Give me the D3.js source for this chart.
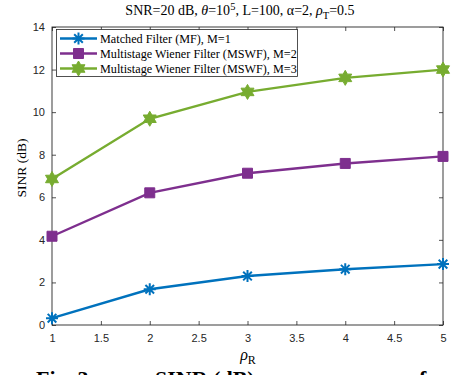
<!DOCTYPE html>
<html>
<head>
<meta charset="utf-8">
<script src="https://cdn.jsdelivr.net/npm/d3@7"></script>
<style>
  body { margin: 0; background: #fff; }
  svg { display: block; }
</style>
</head>
<body>
<div id="chart"></div>
<script>
// values
const rhoR = [1, 2, 3, 4, 5];
const sinrMF = [0.32, 1.68, 2.3, 2.62, 2.86];
const sinrMSWF2 = [4.17, 6.21, 7.13, 7.59, 7.92];
const sinrMSWF3 = [6.86, 9.69, 10.95, 11.61, 12.0];
const seriesNames = ["Matched Filter (MF), M=1", "Multistage Wiener Filter (MSWF), M=2", "Multistage Wiener Filter (MSWF), M=3"];
const seriesColors = ["#0072BD", "#7E2F8E", "#77AC30"];
const seriesMarkers = ["asterisk", "square", "hexagram"];
const xTicks = [1, 1.5, 2, 2.5, 3, 3.5, 4, 4.5, 5];
const yTicks = [0, 2, 4, 6, 8, 10, 12, 14];

const width = 466, height = 375;
const margin = {top: 27, right: 23, bottom: 50, left: 52};
const axisColor = "#262626";
const serif = "'Liberation Serif', 'Times New Roman', serif";
const sans = "'Liberation Sans', Arial, Helvetica, sans-serif";

const svg = d3.select("#chart").append("svg")
    .attr("width", width)
    .attr("height", height);

const x = d3.scaleLinear().domain([1, 5]).range([margin.left, width - margin.right]);
const y = d3.scaleLinear().domain([0, 14]).range([height - margin.bottom, margin.top]);

// ticks inward on all four sides, like a matlab box
const tickLen = 4;
const g = svg.append("g");
g.append("g")
    .attr("transform", `translate(0,${y(0)})`)
    .call(d3.axisBottom(x).tickValues(xTicks).tickSizeInner(-tickLen).tickSizeOuter(0).tickPadding(9).tickFormat(d3.format("")))
    .call(s => s.select(".domain").remove());
g.append("g")
    .attr("transform", `translate(0,${y(14)})`)
    .call(d3.axisTop(x).tickValues(xTicks).tickSizeInner(-tickLen).tickSizeOuter(0).tickFormat(""))
    .call(s => s.select(".domain").remove());
g.append("g")
    .attr("transform", `translate(${x(1)},0)`)
    .call(d3.axisLeft(y).tickValues(yTicks).tickSizeInner(-tickLen).tickSizeOuter(0).tickPadding(7))
    .call(s => s.select(".domain").remove());
g.append("g")
    .attr("transform", `translate(${x(5)},0)`)
    .call(d3.axisRight(y).tickValues(yTicks).tickSizeInner(-tickLen).tickSizeOuter(0).tickFormat(""))
    .call(s => s.select(".domain").remove());

g.selectAll(".tick line").attr("stroke", axisColor).attr("stroke-width", 0.8);
g.selectAll(".tick text")
    .attr("fill", axisColor)
    .style("font-family", sans)
    .style("font-size", "11px");

svg.append("rect")
    .attr("x", x(1)).attr("y", y(14))
    .attr("width", x(5) - x(1)).attr("height", y(0) - y(14))
    .attr("fill", "none")
    .attr("stroke", axisColor)
    .attr("stroke-width", 0.9);

// markers
function markerPath(type, s) {
  if (type === "square") {
    const h = s / 2;
    return `M${-h},${-h}H${h}V${h}H${-h}Z`;
  }
  if (type === "hexagram") {
    const pts = [];
    for (let i = 0; i < 12; i++) {
      const r = i % 2 === 0 ? s / 2 : s / 2 * 0.577;
      const a = -Math.PI / 2 + i * Math.PI / 6;
      pts.push([r * Math.cos(a), r * Math.sin(a)]);
    }
    return "M" + pts.map(p => p.join(",")).join("L") + "Z";
  }
  // asterisk
  const h = s / 2, d = h * 0.72;
  return `M0,${-h}V${h}M${-h},0H${h}M${-d},${-d}L${d},${d}M${-d},${d}L${d},${-d}`;
}

const seriesValues = [sinrMF, sinrMSWF2, sinrMSWF3];
const markerSize = {asterisk: 12, square: 10, hexagram: 15};

const line = d3.line().x(d => x(d[0])).y(d => y(d[1]));

seriesValues.forEach(function(vals, i) {
  const data = rhoR.map((r, j) => [r, vals[j]]);
  svg.append("path")
      .datum(data)
      .attr("d", line)
      .attr("fill", "none")
      .attr("stroke", seriesColors[i])
      .attr("stroke-width", 2.4);

  const m = seriesMarkers[i];
  svg.append("g").selectAll("path")
      .data(data)
      .join("path")
      .attr("transform", d => `translate(${x(d[0])},${y(d[1])})`)
      .attr("d", markerPath(m, markerSize[m]))
      .attr("fill", m === "asterisk" ? "none" : seriesColors[i])
      .attr("stroke", seriesColors[i])
      .attr("stroke-width", m === "asterisk" ? 2 : 1);
});

// legend
const legend = svg.append("g");
legend.append("rect")
    .attr("x", 56.5).attr("y", 29.5)
    .attr("width", 241).attr("height", 47)
    .attr("fill", "#fff")
    .attr("stroke", axisColor)
    .attr("stroke-width", 0.8);
seriesNames.forEach(function(name, i) {
  const ly = 38.5 + i * 15;
  const m = seriesMarkers[i];
  legend.append("line")
      .attr("x1", 60).attr("x2", 97)
      .attr("y1", ly).attr("y2", ly)
      .attr("stroke", seriesColors[i])
      .attr("stroke-width", 2.4);
  legend.append("path")
      .attr("transform", `translate(78.5,${ly})`)
      .attr("d", markerPath(m, markerSize[m]))
      .attr("fill", m === "asterisk" ? "none" : seriesColors[i])
      .attr("stroke", seriesColors[i])
      .attr("stroke-width", m === "asterisk" ? 2 : 1);
  legend.append("text")
      .attr("x", 100).attr("y", ly + 4.5)
      .style("font-family", serif)
      .style("font-size", "12.2px")
      .attr("fill", "#000")
      .text(name);
});

// title
const title = svg.append("text")
    .attr("x", 240).attr("y", 15)
    .attr("text-anchor", "middle")
    .style("font-family", serif)
    .style("font-size", "14px")
    .attr("fill", "#000");
title.append("tspan").text("SNR=20 dB, ");
title.append("tspan").style("font-style", "italic").text("θ");
title.append("tspan").text("=10");
title.append("tspan").attr("dy", -5).style("font-size", "10.5px").text("5");
title.append("tspan").attr("dy", 5).text(", L=100, α=2, ");
title.append("tspan").style("font-style", "italic").text("ρ");
title.append("tspan").attr("dy", 4).style("font-size", "10.5px").text("T");
title.append("tspan").attr("dy", -4).text("=0.5");

// axis labels
svg.append("text")
    .attr("transform", `translate(26,168) rotate(-90)`)
    .attr("text-anchor", "middle")
    .style("font-family", serif)
    .style("font-size", "13.5px")
    .attr("fill", "#000")
    .text("SINR (dB)");

const xl = svg.append("text")
    .attr("x", 248).attr("y", 360)
    .attr("text-anchor", "middle")
    .style("font-family", serif)
    .style("font-size", "16px")
    .attr("fill", "#000");
xl.append("tspan").style("font-style", "italic").text("ρ");
xl.append("tspan").attr("dy", 4).style("font-size", "12px").text("R");

// caption of the figure, cut by the bottom edge as in the source
const cap = svg.append("text")
    .attr("y", 386)
    .style("font-family", serif)
    .style("font-size", "22px")
    .style("font-weight", "bold")
    .attr("fill", "#000");
cap.append("tspan").attr("x", 36).text("Fig. 3.");
cap.append("tspan").attr("x", 155).text("SINR (dB) versus");
cap.append("tspan").attr("x", 408).text("of");
</script>
</body>
</html>
